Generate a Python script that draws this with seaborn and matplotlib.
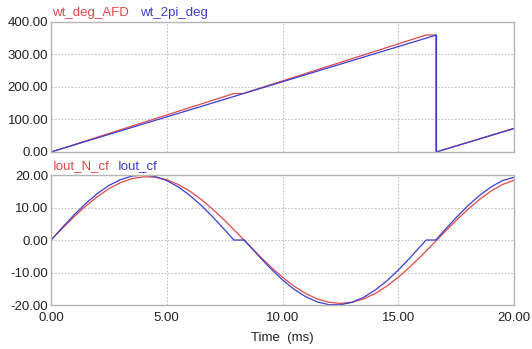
import pandas as pd
import seaborn as sns
import matplotlib.pyplot as plt

# valores (tempo em ms)
t_afd = [0.0, 7.9, 8.3, 16.2, 16.62, 16.62, 20.0]
wt_deg_afd = [0.0, 180.0, 180.0, 360.0, 360.0, 0.0, 73.0]

t_2pi = [0.0, 0.0, 16.65, 16.65, 20.0]
wt_2pi_deg = [360.0, 0.0, 360.0, 0.0, 72.0]

t_n = [0.0, 0.5, 1.0, 1.5, 2.0, 2.5, 3.0, 3.5, 4.0, 4.5, 5.0, 5.5, 6.0, 6.5,
       7.0, 7.5, 8.0, 8.5, 9.0, 9.5, 10.0, 10.5, 11.0, 11.5, 12.0, 12.5, 13.0,
       13.5, 14.0, 14.5, 15.0, 15.5, 16.0, 16.5, 17.0, 17.5, 18.0, 18.5, 19.0,
       19.5, 20.0]
iout_n_cf = [0.0, 3.65, 7.18, 10.45, 13.35, 15.78, 17.65, 18.88, 19.46, 19.34,
             18.55, 17.08, 15.03, 12.42, 9.40, 6.03, 2.44, -1.22, -4.85, -8.30,
             -11.46, -14.21, -16.46, -18.13, -19.15, -19.5, -19.15, -18.13,
             -16.46, -14.21, -11.46, -8.30, -4.85, -1.22, 2.44, 6.03, 9.40,
             12.42, 15.03, 17.08, 18.4]

t_cf = [0.0, 0.5, 1.0, 1.5, 2.0, 2.5, 3.0, 3.5, 4.0, 4.5, 5.0, 5.5, 6.0, 6.5,
        7.0, 7.5, 7.9, 8.35, 8.5, 9.0, 9.5, 10.0, 10.5, 11.0, 11.5, 12.0, 12.5,
        13.0, 13.5, 14.0, 14.5, 15.0, 15.5, 16.0, 16.2, 16.62, 17.0, 17.5,
        18.0, 18.5, 19.0, 19.5, 20.0]
iout_cf = [0.0, 3.95, 7.75, 11.23, 14.28, 16.77, 18.58, 19.68, 20.0, 19.53,
           18.29, 16.33, 13.71, 10.58, 7.00, 3.16, 0.0, 0.0, -1.20, -5.14,
           -8.88, -12.27, -15.16, -17.44, -19.05, -19.88, -19.92, -19.17,
           -17.64, -15.42, -12.60, -9.25, -5.53, -1.60, 0.0, 0.0, 3.03, 6.90,
           10.50, 13.66, 16.30, 18.27, 19.3]

red = "#e04848"
blue = "#3c3cd2"

sns.set_style("white")
plt.rcParams["font.family"] = ["Liberation Sans", "DejaVu Sans"]

fig = plt.figure(figsize=(5.32, 3.49), dpi=100)
ax1 = fig.add_axes([0.0959, 0.5645, 0.8703, 0.3725])
ax2 = fig.add_axes([0.0959, 0.126, 0.8703, 0.3725])

df_afd = pd.DataFrame({"t": t_afd, "v": wt_deg_afd})
df_2pi = pd.DataFrame({"t": t_2pi, "v": wt_2pi_deg})
df_n = pd.DataFrame({"t": t_n, "v": iout_n_cf})
df_cf = pd.DataFrame({"t": t_cf, "v": iout_cf})

sns.lineplot(data=df_afd, x="t", y="v", ax=ax1, color=red, lw=0.9,
             sort=False, estimator=None)
sns.lineplot(data=df_2pi, x="t", y="v", ax=ax1, color=blue, lw=0.9,
             sort=False, estimator=None)
sns.lineplot(data=df_n, x="t", y="v", ax=ax2, color=red, lw=0.9,
             sort=False, estimator=None)
sns.lineplot(data=df_cf, x="t", y="v", ax=ax2, color=blue, lw=0.9,
             sort=False, estimator=None)

ax1.set_ylim(0, 400)
ax1.set_yticks([0, 100, 200, 300, 400])
ax2.set_ylim(-20, 20)
ax2.set_yticks([-20, -10, 0, 10, 20])

for ax in (ax1, ax2):
    ax.set_xlim(0, 20)
    ax.set_xticks([0, 5, 10, 15, 20])
    ax.set_xlabel("")
    ax.set_ylabel("")
    ax.grid(True, color="#c0c0c0", linestyle=(0, (1.5, 1.5)), lw=0.8)
    ax.tick_params(axis="y", length=0, labelsize=9.5, colors="#222222", pad=2)
    ax.tick_params(axis="x", length=0, labelsize=9.5, colors="#222222", pad=5)
    ax.yaxis.set_major_formatter(plt.FormatStrFormatter("%.2f"))
    ax.xaxis.set_major_formatter(plt.FormatStrFormatter("%.2f"))
    for s in ax.spines.values():
        s.set_color("#b4b4b4")
        s.set_linewidth(1.0)

ax1.set_xticklabels([])
ax2.set_xlabel("Time  (ms)", fontsize=9.5, labelpad=6, color="#222222")

ax1.text(0.003, 1.02, "wt_deg_AFD", color=red, fontsize=9.5,
         transform=ax1.transAxes, ha="left", va="bottom")
ax1.text(0.192, 1.02, "wt_2pi_deg", color=blue, fontsize=9.5,
         transform=ax1.transAxes, ha="left", va="bottom")
ax2.text(0.003, 1.02, "Iout_N_cf", color=red, fontsize=9.5,
         transform=ax2.transAxes, ha="left", va="bottom")
ax2.text(0.145, 1.02, "Iout_cf", color=blue, fontsize=9.5,
         transform=ax2.transAxes, ha="left", va="bottom")

plt.savefig("out.png", dpi=100)
